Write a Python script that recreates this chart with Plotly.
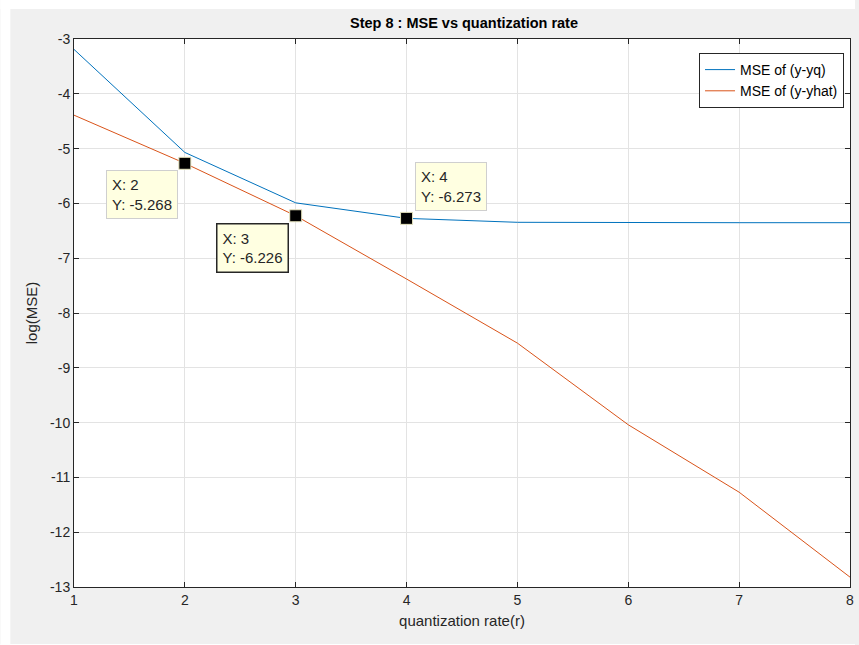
import plotly.graph_objects as go

rate = [1, 2, 3, 4, 5, 6, 7, 8]
mse_yq = [-3.19, -5.07, -5.99, -6.273, -6.345, -6.352, -6.352, -6.352]
mse_yhat = [-4.39, -5.268, -6.226, -7.38, -8.55, -10.04, -11.27, -12.82]

tip_x = [2, 3, 4]
tip_y = [-5.268, -6.226, -6.273]
tip_dx = [-43, -43, 44]
tip_dy = [-31, -32, 32]
tip_border = ["#cfcfcf", "#262626", "#cfcfcf"]
tip_bw = [1, 1.5, 1]

xticks = [1, 2, 3, 4, 5, 6, 7, 8]
yticks = [-3, -4, -5, -6, -7, -8, -9, -10, -11, -12, -13]

FONT = "Liberation Sans, Arial, Helvetica, sans-serif"
W, H = 859, 645
ML, MR, MT, MB = 74, 5, 39, 58
PW, PH = W - ML - MR, H - MT - MB

fig = go.Figure()
fig.add_trace(go.Scatter(x=rate, y=mse_yq, mode="lines", name="MSE of (y-yq)",
                         line=dict(color="#0072BD", width=1)))
fig.add_trace(go.Scatter(x=rate, y=mse_yhat, mode="lines", name="MSE of (y-yhat)",
                         line=dict(color="#D95319", width=1)))
fig.add_trace(go.Scatter(x=tip_x, y=tip_y, mode="markers", showlegend=False,
                         marker=dict(symbol="square", size=12, color="black",
                                     line=dict(color="#e8e6c0", width=1))))

for xv, yv, dx, dy, bc, bw in zip(tip_x, tip_y, tip_dx, tip_dy, tip_border, tip_bw):
    fig.add_annotation(x=xv, y=yv, xref="x", yref="y", showarrow=False,
                       xshift=dx, yshift=dy, align="left",
                       text=f"X: {xv}<br>Y: {yv}",
                       font=dict(family=FONT, size=15, color="#262626"),
                       bgcolor="#ffffe1", bordercolor=bc, borderwidth=bw, borderpad=5)

def px2x(p):
    return (p - ML) / PW

def py2y(p):
    return 1 - (p - MT) / PH

# white strips outside the gray figure panel
fig.add_shape(type="rect", xref="paper", yref="paper", x0=px2x(0), x1=px2x(10),
              y0=py2y(H), y1=py2y(0), fillcolor="white", line_width=0, layer="below")
fig.add_shape(type="rect", xref="paper", yref="paper", x0=px2x(0), x1=px2x(W),
              y0=py2y(9), y1=py2y(0), fillcolor="white", line_width=0, layer="below")
fig.add_shape(type="rect", xref="paper", yref="paper", x0=px2x(0), x1=px2x(W),
              y0=py2y(H), y1=py2y(644), fillcolor="white", line_width=0, layer="below")

axis_common = dict(showline=True, linecolor="#262626", linewidth=1, mirror="ticks",
                   ticks="inside", ticklen=5, tickcolor="#262626", tickwidth=1,
                   showgrid=True, gridcolor="#e3e3e3", gridwidth=1, zeroline=False,
                   tickfont=dict(family=FONT, size=14, color="#262626"))

fig.update_layout(
    width=W, height=H,
    margin=dict(l=ML, r=MR, t=MT, b=MB),
    paper_bgcolor="#f0f0f0", plot_bgcolor="white",
    title=dict(text="<b>Step 8 : MSE vs quantization rate</b>", x=(ML + PW / 2) / W,
               xanchor="center", y=1 - 23 / H, yanchor="middle",
               font=dict(family=FONT, size=14.5, color="black")),
    xaxis=dict(range=[1, 8], tickvals=xticks, ticktext=[str(v) for v in xticks],
               title=dict(text="quantization rate(r)", standoff=8,
                          font=dict(family=FONT, size=15, color="#262626")),
               **axis_common),
    yaxis=dict(range=[-13, -3], tickvals=yticks, ticktext=[str(v) for v in yticks],
               title=dict(text="log(MSE)", standoff=8,
                          font=dict(family=FONT, size=15, color="#262626")),
               **axis_common),
    legend=dict(x=px2x(848), xanchor="right", y=py2y(53), yanchor="top",
                bgcolor="white", bordercolor="#262626", borderwidth=1,
                font=dict(family=FONT, size=14, color="black"),
                tracegroupgap=0, itemwidth=30),
    showlegend=True,
)

fig.write_html("out.html", config={"displayModeBar": False},
               post_script="document.body.style.margin='0';")
